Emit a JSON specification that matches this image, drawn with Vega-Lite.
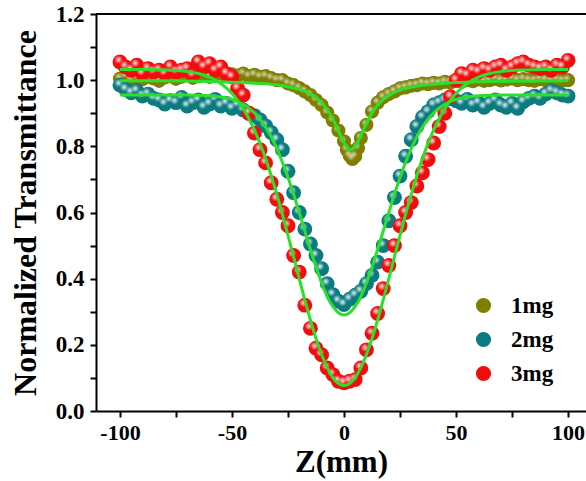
{
  "$schema": "https://vega.github.io/schema/vega-lite/v6.json",
  "width": 490,
  "height": 397,
  "autosize": {"type": "none"},
  "padding": {"left": 96, "top": 14, "right": 0, "bottom": 70},
  "background": "white",
  "config": {
    "view": {"stroke": null},
    "font": "Liberation Serif, Times New Roman, serif",
    "axis": {
      "grid": false,
      "domainColor": "black",
      "domainWidth": 2,
      "tickColor": "black",
      "tickWidth": 2,
      "tickSize": 6,
      "labelColor": "black",
      "labelFont": "Liberation Serif, Times New Roman, serif",
      "labelFontSize": 23,
      "labelFontWeight": "bold",
      "labelOverlap": false,
      "labelFlush": false,
      "titleColor": "black",
      "titleFont": "Liberation Serif, Times New Roman, serif",
      "titleFontSize": 32,
      "titleFontWeight": "bold"
    },
    "legend": {
      "orient": "none",
      "legendX": 376,
      "legendY": 280,
      "symbolType": "circle",
      "symbolSize": 230,
      "symbolStrokeWidth": 0,
      "labelFont": "Liberation Serif, Times New Roman, serif",
      "labelFontSize": 23,
      "labelFontWeight": "bold",
      "labelColor": "black",
      "labelOffset": 16,
      "rowPadding": 10
    }
  },
  "datasets": {
    "pts": [
      {"z": -100, "T": 1.005, "s": "1mg"}, {"z": -97.5, "T": 1.012, "s": "1mg"}, {"z": -95, "T": 1.0, "s": "1mg"}, {"z": -92.5, "T": 1.008, "s": "1mg"},
      {"z": -90, "T": 1.003, "s": "1mg"}, {"z": -87.5, "T": 1.01, "s": "1mg"}, {"z": -85, "T": 1.005, "s": "1mg"}, {"z": -82.5, "T": 0.998, "s": "1mg"},
      {"z": -80, "T": 1.008, "s": "1mg"}, {"z": -77.5, "T": 1.012, "s": "1mg"}, {"z": -75, "T": 1.004, "s": "1mg"}, {"z": -72.5, "T": 1.01, "s": "1mg"},
      {"z": -70, "T": 1.015, "s": "1mg"}, {"z": -67.5, "T": 1.007, "s": "1mg"}, {"z": -65, "T": 1.012, "s": "1mg"}, {"z": -62.5, "T": 1.018, "s": "1mg"},
      {"z": -60, "T": 1.01, "s": "1mg"}, {"z": -57.5, "T": 1.016, "s": "1mg"}, {"z": -55, "T": 1.02, "s": "1mg"}, {"z": -52.5, "T": 1.012, "s": "1mg"},
      {"z": -50, "T": 1.018, "s": "1mg"}, {"z": -47.5, "T": 1.014, "s": "1mg"}, {"z": -45, "T": 1.02, "s": "1mg"}, {"z": -42.5, "T": 1.012, "s": "1mg"},
      {"z": -40, "T": 1.016, "s": "1mg"}, {"z": -37.5, "T": 1.01, "s": "1mg"}, {"z": -35, "T": 1.012, "s": "1mg"}, {"z": -32.5, "T": 1.006, "s": "1mg"},
      {"z": -30, "T": 1.0, "s": "1mg"}, {"z": -27.5, "T": 1.0, "s": "1mg"}, {"z": -25, "T": 0.99, "s": "1mg"}, {"z": -22.5, "T": 0.985, "s": "1mg"},
      {"z": -20, "T": 0.976, "s": "1mg"}, {"z": -17.5, "T": 0.966, "s": "1mg"}, {"z": -15, "T": 0.955, "s": "1mg"}, {"z": -12.5, "T": 0.94, "s": "1mg"},
      {"z": -10, "T": 0.925, "s": "1mg"}, {"z": -7.5, "T": 0.902, "s": "1mg"}, {"z": -5, "T": 0.878, "s": "1mg"}, {"z": -2.5, "T": 0.848, "s": "1mg"},
      {"z": 0, "T": 0.815, "s": "1mg"}, {"z": 1.25, "T": 0.79, "s": "1mg"}, {"z": 2.5, "T": 0.772, "s": "1mg"}, {"z": 3.75, "T": 0.762, "s": "1mg"},
      {"z": 5, "T": 0.77, "s": "1mg"}, {"z": 6.25, "T": 0.795, "s": "1mg"}, {"z": 7.5, "T": 0.825, "s": "1mg"}, {"z": 10, "T": 0.865, "s": "1mg"},
      {"z": 12.5, "T": 0.905, "s": "1mg"}, {"z": 15, "T": 0.932, "s": "1mg"}, {"z": 17.5, "T": 0.948, "s": "1mg"}, {"z": 20, "T": 0.958, "s": "1mg"},
      {"z": 22.5, "T": 0.966, "s": "1mg"}, {"z": 25, "T": 0.975, "s": "1mg"}, {"z": 27.5, "T": 0.978, "s": "1mg"}, {"z": 30, "T": 0.983, "s": "1mg"},
      {"z": 32.5, "T": 0.985, "s": "1mg"}, {"z": 35, "T": 0.99, "s": "1mg"}, {"z": 37.5, "T": 0.988, "s": "1mg"}, {"z": 40, "T": 0.992, "s": "1mg"},
      {"z": 42.5, "T": 0.99, "s": "1mg"}, {"z": 45, "T": 0.995, "s": "1mg"}, {"z": 47.5, "T": 0.993, "s": "1mg"}, {"z": 50, "T": 0.998, "s": "1mg"},
      {"z": 52.5, "T": 0.995, "s": "1mg"}, {"z": 55, "T": 1.0, "s": "1mg"}, {"z": 57.5, "T": 0.997, "s": "1mg"}, {"z": 60, "T": 1.002, "s": "1mg"},
      {"z": 62.5, "T": 0.998, "s": "1mg"}, {"z": 65, "T": 1.0, "s": "1mg"}, {"z": 67.5, "T": 1.004, "s": "1mg"}, {"z": 70, "T": 0.999, "s": "1mg"},
      {"z": 72.5, "T": 1.002, "s": "1mg"}, {"z": 75, "T": 1.005, "s": "1mg"}, {"z": 77.5, "T": 1.0, "s": "1mg"}, {"z": 80, "T": 1.003, "s": "1mg"},
      {"z": 82.5, "T": 1.0, "s": "1mg"}, {"z": 85, "T": 0.998, "s": "1mg"}, {"z": 87.5, "T": 1.003, "s": "1mg"}, {"z": 90, "T": 1.0, "s": "1mg"},
      {"z": 92.5, "T": 0.997, "s": "1mg"}, {"z": 95, "T": 1.002, "s": "1mg"}, {"z": 97.5, "T": 0.998, "s": "1mg"}, {"z": 100, "T": 1.0, "s": "1mg"},

      {"z": -100, "T": 0.985, "s": "2mg"}, {"z": -97.5, "T": 0.972, "s": "2mg"}, {"z": -95, "T": 0.962, "s": "2mg"}, {"z": -92.5, "T": 0.968, "s": "2mg"},
      {"z": -90, "T": 0.952, "s": "2mg"}, {"z": -87.5, "T": 0.958, "s": "2mg"}, {"z": -85, "T": 0.945, "s": "2mg"}, {"z": -82.5, "T": 0.94, "s": "2mg"},
      {"z": -80, "T": 0.928, "s": "2mg"}, {"z": -77.5, "T": 0.938, "s": "2mg"}, {"z": -75, "T": 0.932, "s": "2mg"}, {"z": -72.5, "T": 0.948, "s": "2mg"},
      {"z": -70, "T": 0.922, "s": "2mg"}, {"z": -67.5, "T": 0.932, "s": "2mg"}, {"z": -65, "T": 0.94, "s": "2mg"}, {"z": -62.5, "T": 0.918, "s": "2mg"},
      {"z": -60, "T": 0.928, "s": "2mg"}, {"z": -57.5, "T": 0.942, "s": "2mg"}, {"z": -55, "T": 0.922, "s": "2mg"}, {"z": -52.5, "T": 0.93, "s": "2mg"},
      {"z": -50, "T": 0.915, "s": "2mg"}, {"z": -47.5, "T": 0.925, "s": "2mg"}, {"z": -45, "T": 0.91, "s": "2mg"}, {"z": -42.5, "T": 0.9, "s": "2mg"},
      {"z": -40, "T": 0.893, "s": "2mg"}, {"z": -37.5, "T": 0.88, "s": "2mg"}, {"z": -35, "T": 0.862, "s": "2mg"}, {"z": -32.5, "T": 0.842, "s": "2mg"},
      {"z": -30, "T": 0.82, "s": "2mg"}, {"z": -27.5, "T": 0.79, "s": "2mg"}, {"z": -25, "T": 0.725, "s": "2mg"}, {"z": -22.5, "T": 0.66, "s": "2mg"},
      {"z": -20, "T": 0.6, "s": "2mg"}, {"z": -17.5, "T": 0.55, "s": "2mg"}, {"z": -15, "T": 0.505, "s": "2mg"}, {"z": -12.5, "T": 0.47, "s": "2mg"},
      {"z": -10, "T": 0.43, "s": "2mg"}, {"z": -7.5, "T": 0.385, "s": "2mg"}, {"z": -5, "T": 0.352, "s": "2mg"}, {"z": -2.5, "T": 0.332, "s": "2mg"},
      {"z": 0, "T": 0.322, "s": "2mg"}, {"z": 2.5, "T": 0.338, "s": "2mg"}, {"z": 5, "T": 0.35, "s": "2mg"}, {"z": 7.5, "T": 0.362, "s": "2mg"},
      {"z": 10, "T": 0.385, "s": "2mg"}, {"z": 12.5, "T": 0.41, "s": "2mg"}, {"z": 15, "T": 0.45, "s": "2mg"}, {"z": 17.5, "T": 0.5, "s": "2mg"},
      {"z": 20, "T": 0.575, "s": "2mg"}, {"z": 22.5, "T": 0.645, "s": "2mg"}, {"z": 25, "T": 0.71, "s": "2mg"}, {"z": 27.5, "T": 0.77, "s": "2mg"},
      {"z": 30, "T": 0.82, "s": "2mg"}, {"z": 32.5, "T": 0.86, "s": "2mg"}, {"z": 35, "T": 0.888, "s": "2mg"}, {"z": 37.5, "T": 0.905, "s": "2mg"},
      {"z": 40, "T": 0.925, "s": "2mg"}, {"z": 42.5, "T": 0.932, "s": "2mg"}, {"z": 45, "T": 0.94, "s": "2mg"}, {"z": 47.5, "T": 0.945, "s": "2mg"},
      {"z": 50, "T": 0.938, "s": "2mg"}, {"z": 52.5, "T": 0.93, "s": "2mg"}, {"z": 55, "T": 0.942, "s": "2mg"}, {"z": 57.5, "T": 0.925, "s": "2mg"},
      {"z": 60, "T": 0.932, "s": "2mg"}, {"z": 62.5, "T": 0.918, "s": "2mg"}, {"z": 65, "T": 0.93, "s": "2mg"}, {"z": 67.5, "T": 0.94, "s": "2mg"},
      {"z": 70, "T": 0.925, "s": "2mg"}, {"z": 72.5, "T": 0.918, "s": "2mg"}, {"z": 75, "T": 0.93, "s": "2mg"}, {"z": 77.5, "T": 0.915, "s": "2mg"},
      {"z": 80, "T": 0.935, "s": "2mg"}, {"z": 82.5, "T": 0.945, "s": "2mg"}, {"z": 85, "T": 0.952, "s": "2mg"}, {"z": 87.5, "T": 0.945, "s": "2mg"},
      {"z": 90, "T": 0.958, "s": "2mg"}, {"z": 92.5, "T": 0.968, "s": "2mg"}, {"z": 95, "T": 0.962, "s": "2mg"}, {"z": 97.5, "T": 0.955, "s": "2mg"},
      {"z": 100, "T": 0.952, "s": "2mg"},

      {"z": -100, "T": 1.055, "s": "3mg"}, {"z": -97.5, "T": 1.04, "s": "3mg"}, {"z": -95, "T": 1.03, "s": "3mg"}, {"z": -92.5, "T": 1.045, "s": "3mg"},
      {"z": -90, "T": 1.02, "s": "3mg"}, {"z": -87.5, "T": 1.035, "s": "3mg"}, {"z": -85, "T": 1.025, "s": "3mg"}, {"z": -82.5, "T": 1.03, "s": "3mg"},
      {"z": -80, "T": 1.02, "s": "3mg"}, {"z": -77.5, "T": 1.04, "s": "3mg"}, {"z": -75, "T": 1.025, "s": "3mg"}, {"z": -72.5, "T": 1.03, "s": "3mg"},
      {"z": -70, "T": 1.035, "s": "3mg"}, {"z": -67.5, "T": 1.015, "s": "3mg"}, {"z": -65, "T": 1.055, "s": "3mg"}, {"z": -62.5, "T": 1.04, "s": "3mg"},
      {"z": -60, "T": 1.05, "s": "3mg"}, {"z": -57.5, "T": 1.03, "s": "3mg"}, {"z": -55, "T": 1.04, "s": "3mg"}, {"z": -52.5, "T": 1.02, "s": "3mg"},
      {"z": -50, "T": 1.01, "s": "3mg"}, {"z": -47.5, "T": 0.975, "s": "3mg"}, {"z": -45, "T": 0.955, "s": "3mg"}, {"z": -42.5, "T": 0.9, "s": "3mg"},
      {"z": -40, "T": 0.84, "s": "3mg"}, {"z": -37.5, "T": 0.79, "s": "3mg"}, {"z": -35, "T": 0.75, "s": "3mg"}, {"z": -32.5, "T": 0.69, "s": "3mg"},
      {"z": -30, "T": 0.64, "s": "3mg"}, {"z": -27.5, "T": 0.6, "s": "3mg"}, {"z": -25, "T": 0.56, "s": "3mg"}, {"z": -22.5, "T": 0.47, "s": "3mg"},
      {"z": -20, "T": 0.42, "s": "3mg"}, {"z": -17.5, "T": 0.32, "s": "3mg"}, {"z": -15, "T": 0.25, "s": "3mg"}, {"z": -12.5, "T": 0.19, "s": "3mg"},
      {"z": -10, "T": 0.17, "s": "3mg"}, {"z": -7.5, "T": 0.13, "s": "3mg"}, {"z": -5, "T": 0.11, "s": "3mg"}, {"z": -2.5, "T": 0.09, "s": "3mg"},
      {"z": 0, "T": 0.085, "s": "3mg"}, {"z": 2.5, "T": 0.09, "s": "3mg"}, {"z": 5, "T": 0.095, "s": "3mg"}, {"z": 7.5, "T": 0.13, "s": "3mg"},
      {"z": 10, "T": 0.185, "s": "3mg"}, {"z": 12.5, "T": 0.235, "s": "3mg"}, {"z": 15, "T": 0.295, "s": "3mg"}, {"z": 17.5, "T": 0.37, "s": "3mg"},
      {"z": 20, "T": 0.44, "s": "3mg"}, {"z": 22.5, "T": 0.5, "s": "3mg"}, {"z": 25, "T": 0.56, "s": "3mg"}, {"z": 27.5, "T": 0.6, "s": "3mg"},
      {"z": 30, "T": 0.63, "s": "3mg"}, {"z": 32.5, "T": 0.68, "s": "3mg"}, {"z": 35, "T": 0.72, "s": "3mg"}, {"z": 37.5, "T": 0.76, "s": "3mg"},
      {"z": 40, "T": 0.81, "s": "3mg"}, {"z": 42.5, "T": 0.86, "s": "3mg"}, {"z": 45, "T": 0.9, "s": "3mg"}, {"z": 47.5, "T": 0.95, "s": "3mg"},
      {"z": 50, "T": 1.0, "s": "3mg"}, {"z": 52.5, "T": 1.02, "s": "3mg"}, {"z": 55, "T": 1.015, "s": "3mg"}, {"z": 57.5, "T": 1.03, "s": "3mg"},
      {"z": 60, "T": 1.025, "s": "3mg"}, {"z": 62.5, "T": 1.035, "s": "3mg"}, {"z": 65, "T": 1.03, "s": "3mg"}, {"z": 67.5, "T": 1.04, "s": "3mg"},
      {"z": 70, "T": 1.045, "s": "3mg"}, {"z": 72.5, "T": 1.03, "s": "3mg"}, {"z": 75, "T": 1.04, "s": "3mg"}, {"z": 77.5, "T": 1.05, "s": "3mg"},
      {"z": 80, "T": 1.055, "s": "3mg"}, {"z": 82.5, "T": 1.045, "s": "3mg"}, {"z": 85, "T": 1.04, "s": "3mg"}, {"z": 87.5, "T": 1.035, "s": "3mg"},
      {"z": 90, "T": 1.04, "s": "3mg"}, {"z": 92.5, "T": 1.03, "s": "3mg"}, {"z": 95, "T": 1.045, "s": "3mg"}, {"z": 97.5, "T": 1.04, "s": "3mg"},
      {"z": 100, "T": 1.06, "s": "3mg"}
    ],
    "fit": [
      {"z": -100, "T": 0.998, "s": "1mg"}, {"z": -80, "T": 0.998, "s": "1mg"}, {"z": -60, "T": 0.996, "s": "1mg"}, {"z": -50, "T": 0.994, "s": "1mg"},
      {"z": -40, "T": 0.991, "s": "1mg"}, {"z": -30, "T": 0.986, "s": "1mg"}, {"z": -25, "T": 0.98, "s": "1mg"}, {"z": -20, "T": 0.972, "s": "1mg"},
      {"z": -17.5, "T": 0.966, "s": "1mg"}, {"z": -15, "T": 0.958, "s": "1mg"}, {"z": -12.5, "T": 0.947, "s": "1mg"}, {"z": -10, "T": 0.932, "s": "1mg"},
      {"z": -7.5, "T": 0.911, "s": "1mg"}, {"z": -5, "T": 0.883, "s": "1mg"}, {"z": -2.5, "T": 0.847, "s": "1mg"}, {"z": 0, "T": 0.811, "s": "1mg"},
      {"z": 1.5, "T": 0.796, "s": "1mg"}, {"z": 3, "T": 0.79, "s": "1mg"}, {"z": 4.5, "T": 0.796, "s": "1mg"}, {"z": 6, "T": 0.811, "s": "1mg"},
      {"z": 8, "T": 0.84, "s": "1mg"}, {"z": 10, "T": 0.869, "s": "1mg"}, {"z": 12.5, "T": 0.901, "s": "1mg"}, {"z": 15, "T": 0.924, "s": "1mg"},
      {"z": 17.5, "T": 0.942, "s": "1mg"}, {"z": 20, "T": 0.954, "s": "1mg"}, {"z": 25, "T": 0.97, "s": "1mg"}, {"z": 30, "T": 0.979, "s": "1mg"},
      {"z": 40, "T": 0.988, "s": "1mg"}, {"z": 50, "T": 0.993, "s": "1mg"}, {"z": 60, "T": 0.995, "s": "1mg"}, {"z": 80, "T": 0.997, "s": "1mg"},
      {"z": 100, "T": 0.998, "s": "1mg"},

      {"z": -100, "T": 0.955, "s": "2mg"}, {"z": -80, "T": 0.955, "s": "2mg"}, {"z": -70, "T": 0.955, "s": "2mg"}, {"z": -60, "T": 0.953, "s": "2mg"},
      {"z": -55, "T": 0.949, "s": "2mg"}, {"z": -50, "T": 0.942, "s": "2mg"}, {"z": -45, "T": 0.927, "s": "2mg"}, {"z": -42.5, "T": 0.916, "s": "2mg"},
      {"z": -40, "T": 0.901, "s": "2mg"}, {"z": -37.5, "T": 0.882, "s": "2mg"}, {"z": -35, "T": 0.858, "s": "2mg"}, {"z": -32.5, "T": 0.829, "s": "2mg"},
      {"z": -30, "T": 0.793, "s": "2mg"}, {"z": -27.5, "T": 0.752, "s": "2mg"}, {"z": -25, "T": 0.706, "s": "2mg"}, {"z": -22.5, "T": 0.655, "s": "2mg"},
      {"z": -20, "T": 0.6, "s": "2mg"}, {"z": -17.5, "T": 0.544, "s": "2mg"}, {"z": -15, "T": 0.488, "s": "2mg"}, {"z": -12.5, "T": 0.435, "s": "2mg"},
      {"z": -10, "T": 0.387, "s": "2mg"}, {"z": -7.5, "T": 0.346, "s": "2mg"}, {"z": -5, "T": 0.316, "s": "2mg"}, {"z": -2.5, "T": 0.297, "s": "2mg"},
      {"z": 0, "T": 0.29, "s": "2mg"}, {"z": 2.5, "T": 0.297, "s": "2mg"}, {"z": 5, "T": 0.316, "s": "2mg"}, {"z": 7.5, "T": 0.346, "s": "2mg"},
      {"z": 10, "T": 0.387, "s": "2mg"}, {"z": 12.5, "T": 0.435, "s": "2mg"}, {"z": 15, "T": 0.488, "s": "2mg"}, {"z": 17.5, "T": 0.544, "s": "2mg"},
      {"z": 20, "T": 0.6, "s": "2mg"}, {"z": 22.5, "T": 0.655, "s": "2mg"}, {"z": 25, "T": 0.706, "s": "2mg"}, {"z": 27.5, "T": 0.752, "s": "2mg"},
      {"z": 30, "T": 0.793, "s": "2mg"}, {"z": 32.5, "T": 0.829, "s": "2mg"}, {"z": 35, "T": 0.858, "s": "2mg"}, {"z": 37.5, "T": 0.882, "s": "2mg"},
      {"z": 40, "T": 0.901, "s": "2mg"}, {"z": 42.5, "T": 0.916, "s": "2mg"}, {"z": 45, "T": 0.927, "s": "2mg"}, {"z": 50, "T": 0.942, "s": "2mg"},
      {"z": 55, "T": 0.949, "s": "2mg"}, {"z": 60, "T": 0.953, "s": "2mg"}, {"z": 70, "T": 0.955, "s": "2mg"}, {"z": 80, "T": 0.955, "s": "2mg"},
      {"z": 100, "T": 0.955, "s": "2mg"},

      {"z": -100, "T": 1.032, "s": "3mg"}, {"z": -90, "T": 1.032, "s": "3mg"}, {"z": -80, "T": 1.031, "s": "3mg"}, {"z": -70, "T": 1.026, "s": "3mg"},
      {"z": -65, "T": 1.02, "s": "3mg"}, {"z": -60, "T": 1.009, "s": "3mg"}, {"z": -55, "T": 0.99, "s": "3mg"}, {"z": -50, "T": 0.96, "s": "3mg"},
      {"z": -47.5, "T": 0.939, "s": "3mg"}, {"z": -45, "T": 0.914, "s": "3mg"}, {"z": -42.5, "T": 0.884, "s": "3mg"}, {"z": -40, "T": 0.849, "s": "3mg"},
      {"z": -37.5, "T": 0.809, "s": "3mg"}, {"z": -35, "T": 0.763, "s": "3mg"}, {"z": -32.5, "T": 0.711, "s": "3mg"}, {"z": -30, "T": 0.655, "s": "3mg"},
      {"z": -27.5, "T": 0.595, "s": "3mg"}, {"z": -25, "T": 0.531, "s": "3mg"}, {"z": -22.5, "T": 0.466, "s": "3mg"}, {"z": -20, "T": 0.4, "s": "3mg"},
      {"z": -17.5, "T": 0.336, "s": "3mg"}, {"z": -15, "T": 0.275, "s": "3mg"}, {"z": -12.5, "T": 0.219, "s": "3mg"}, {"z": -10, "T": 0.171, "s": "3mg"},
      {"z": -7.5, "T": 0.131, "s": "3mg"}, {"z": -5, "T": 0.101, "s": "3mg"}, {"z": -2.5, "T": 0.083, "s": "3mg"}, {"z": 0, "T": 0.077, "s": "3mg"},
      {"z": 2.5, "T": 0.083, "s": "3mg"}, {"z": 5, "T": 0.101, "s": "3mg"}, {"z": 7.5, "T": 0.131, "s": "3mg"}, {"z": 10, "T": 0.171, "s": "3mg"},
      {"z": 12.5, "T": 0.219, "s": "3mg"}, {"z": 15, "T": 0.275, "s": "3mg"}, {"z": 17.5, "T": 0.336, "s": "3mg"}, {"z": 20, "T": 0.4, "s": "3mg"},
      {"z": 22.5, "T": 0.466, "s": "3mg"}, {"z": 25, "T": 0.531, "s": "3mg"}, {"z": 27.5, "T": 0.595, "s": "3mg"}, {"z": 30, "T": 0.655, "s": "3mg"},
      {"z": 32.5, "T": 0.711, "s": "3mg"}, {"z": 35, "T": 0.763, "s": "3mg"}, {"z": 37.5, "T": 0.809, "s": "3mg"}, {"z": 40, "T": 0.849, "s": "3mg"},
      {"z": 42.5, "T": 0.884, "s": "3mg"}, {"z": 45, "T": 0.914, "s": "3mg"}, {"z": 47.5, "T": 0.939, "s": "3mg"}, {"z": 50, "T": 0.96, "s": "3mg"},
      {"z": 55, "T": 0.99, "s": "3mg"}, {"z": 60, "T": 1.009, "s": "3mg"}, {"z": 65, "T": 1.02, "s": "3mg"}, {"z": 70, "T": 1.026, "s": "3mg"},
      {"z": 80, "T": 1.031, "s": "3mg"}, {"z": 90, "T": 1.032, "s": "3mg"}, {"z": 100, "T": 1.032, "s": "3mg"}
    ]
  },
  "encoding": {
    "x": {
      "field": "z",
      "type": "quantitative",
      "title": "Z(mm)",
      "scale": {"domain": [-110.7, 108], "nice": false, "zero": false},
      "axis": {
        "values": [-100, -75, -50, -25, 0, 25, 50, 75, 100],
        "labelExpr": "datum.value % 50 == 0 ? '' + datum.value : ''",
        "labelFontSize": 22,
        "labelPadding": 5,
        "titleFontSize": 31,
        "titlePadding": 4
      }
    },
    "y": {
      "field": "T",
      "type": "quantitative",
      "title": "Normalized Transmittance",
      "scale": {"domain": [0, 1.2], "nice": false},
      "axis": {
        "values": [0, 0.1, 0.2, 0.3, 0.4, 0.5, 0.6, 0.7, 0.8, 0.9, 1.0, 1.1, 1.2],
        "labelExpr": "round(datum.value * 10) % 2 == 0 ? format(datum.value, '.1f') : ''",
        "labelPadding": 6,
        "titlePadding": 13
      }
    }
  },
  "layer": [
    {
      "data": {"values": [{"T": 1.2}]},
      "mark": {"type": "rule", "color": "black", "strokeWidth": 2},
      "encoding": {"x": null, "y": {"field": "T", "type": "quantitative"}}
    },
    {
      "data": {"name": "pts"},
      "transform": [{"filter": "datum.s === '1mg'"}],
      "mark": {"type": "circle", "size": 200, "opacity": 1},
      "encoding": {
        "color": {
          "field": "s",
          "type": "nominal",
          "title": null,
          "scale": {"domain": ["1mg", "2mg", "3mg"], "range": ["#7e7e00", "#0b7b80", "#f20d0d"]}
        }
      }
    },
    {
      "data": {"name": "pts"},
      "transform": [{"filter": "datum.s === '1mg'"}],
      "mark": {
        "type": "circle", "size": 200, "opacity": 1,
        "fill": {"gradient": "radial", "x1": 0.4, "y1": 0.35, "r1": 0, "x2": 0.4, "y2": 0.35, "r2": 0.28,
          "stops": [{"offset": 0, "color": "rgba(255,255,255,0.7)"}, {"offset": 1, "color": "rgba(255,255,255,0)"}]}
      }
    },
    {
      "data": {"name": "pts"},
      "transform": [{"filter": "datum.s === '2mg'"}],
      "mark": {"type": "circle", "size": 220, "opacity": 1},
      "encoding": {"color": {"field": "s", "type": "nominal"}}
    },
    {
      "data": {"name": "pts"},
      "transform": [{"filter": "datum.s === '2mg'"}],
      "mark": {
        "type": "circle", "size": 220, "opacity": 1,
        "fill": {"gradient": "radial", "x1": 0.4, "y1": 0.35, "r1": 0, "x2": 0.4, "y2": 0.35, "r2": 0.28,
          "stops": [{"offset": 0, "color": "rgba(255,255,255,0.9)"}, {"offset": 1, "color": "rgba(255,255,255,0)"}]}
      }
    },
    {
      "data": {"name": "pts"},
      "transform": [{"filter": "datum.s === '3mg'"}],
      "mark": {"type": "circle", "size": 220, "opacity": 1},
      "encoding": {"color": {"field": "s", "type": "nominal"}}
    },
    {
      "data": {"name": "pts"},
      "transform": [{"filter": "datum.s === '3mg'"}],
      "mark": {
        "type": "circle", "size": 220, "opacity": 1,
        "fill": {"gradient": "radial", "x1": 0.4, "y1": 0.35, "r1": 0, "x2": 0.4, "y2": 0.35, "r2": 0.28,
          "stops": [{"offset": 0, "color": "rgba(255,255,255,0.9)"}, {"offset": 1, "color": "rgba(255,255,255,0)"}]}
      }
    },
    {
      "data": {"name": "fit"},
      "mark": {"type": "line", "color": "#2ae02a", "strokeWidth": 3, "interpolate": "monotone"},
      "encoding": {"detail": {"field": "s", "type": "nominal"}}
    }
  ]
}
